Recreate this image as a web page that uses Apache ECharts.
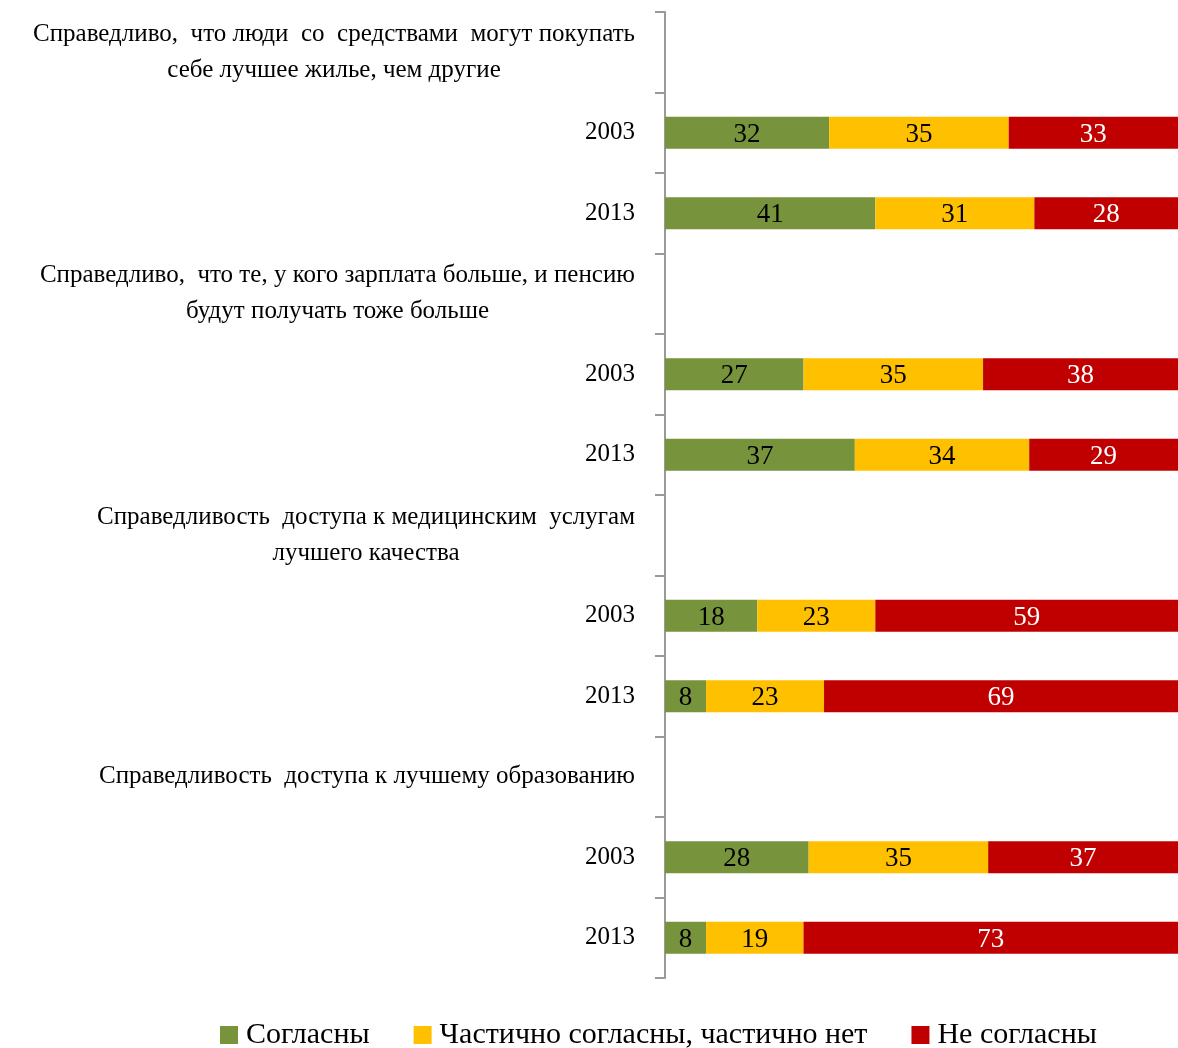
<!DOCTYPE html>
<html>
<head>
<meta charset="utf-8">
<script src="https://cdn.jsdelivr.net/npm/echarts@6/dist/echarts.min.js"></script>
<style>
  html, body { margin: 0; padding: 0; background: #fff; }
  #chart { width: 1178px; height: 1048px; }
</style>
</head>
<body>
<div id="chart"></div>
<script>
// строки оси: заголовки вопросов и годы
const categories = [
  'Справедливо,  что люди  со  средствами  могут покупать\nсебе лучшее жилье, чем другие',
  '2003', '2013',
  'Справедливо,  что те, у кого зарплата больше, и пенсию\nбудут получать тоже больше',
  '2003', '2013',
  'Справедливость  доступа к медицинским  услугам\nлучшего качества',
  '2003', '2013',
  'Справедливость  доступа к лучшему образованию',
  '2003', '2013'
]
const seriesNames = ['Согласны', 'Частично согласны, частично нет', 'Не согласны']
// '-' — строки-заголовки без столбцов
const agree   = ['-', 32, 41, '-', 27, 37, '-', 18, 8, '-', 28, 8]
const partial = ['-', 35, 31, '-', 35, 34, '-', 23, 23, '-', 35, 19]
const disagree = ['-', 33, 28, '-', 38, 29, '-', 59, 69, '-', 37, 73]

const colors = ['#77933C', '#FFC000', '#C00000']
const labelColors = ['#000', '#000', '#fff']
const font = '"Liberation Serif", "DejaVu Serif", serif'

const chart = echarts.init(document.getElementById('chart'))

const makeSeries = (name, data, i) => ({
  name,
  type: 'bar',
  stack: 'total',
  barWidth: 32,
  data,
  itemStyle: {color: colors[i]},
  label: {
    show: true,
    position: 'inside',
    offset: [0, 2],
    color: labelColors[i],
    fontFamily: font,
    fontSize: 27
  }
})

chart.setOption({
  animation: false,
  textStyle: {fontFamily: font},
  grid: {left: 665, right: 0, top: 12, bottom: 70, containLabel: false},
  legend: {
    top: 1015,
    left: 215,
    icon: 'rect',
    itemWidth: 18,
    itemHeight: 18,
    itemGap: 44,
    textStyle: {fontFamily: font, fontSize: 30, color: '#000', padding: [0, 0, 0, 3]},
    data: seriesNames
  },
  xAxis: {type: 'value', min: 0, max: 100, show: false},
  yAxis: {
    type: 'category',
    inverse: true,
    data: categories.map((c, i) => String(i)),
    axisLine: {show: true, lineStyle: {color: '#999', width: 2}},
    axisTick: {show: true, length: 10, lineStyle: {color: '#999', width: 2}},
    axisLabel: {
      margin: 30,
      color: '#000',
      fontFamily: font,
      fontSize: 25,
      formatter: (v) => categories[+v].split('\n').map(s => '{h|' + s + '}').join('\n'),
      rich: {h: {align: 'center', fontFamily: font, fontSize: 25, lineHeight: 36, color: '#000'}}
    }
  },
  series: [
    makeSeries(seriesNames[0], agree, 0),
    makeSeries(seriesNames[1], partial, 1),
    makeSeries(seriesNames[2], disagree, 2)
  ]
})
</script>
</body>
</html>
